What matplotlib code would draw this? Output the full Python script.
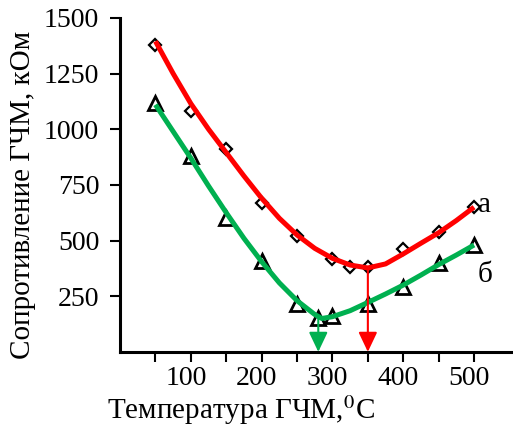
import numpy as np
import matplotlib
matplotlib.use('Agg')
import matplotlib.pyplot as plt
import matplotlib.transforms as mtransforms

plt.rcParams['font.family'] = ['Liberation Serif', 'DejaVu Serif']
plt.rcParams['mathtext.fontset'] = 'stix'

# measured points
temp_a = [50, 100, 150, 200, 250, 300, 325, 350, 400, 450, 500]
res_a = [1380, 1080, 910, 670, 520, 415, 380, 380, 460, 540, 650]
temp_b = [50, 100, 150, 200, 250, 280, 300, 350, 400, 450, 500]
res_b = [1120, 880, 600, 410, 215, 150, 160, 215, 290, 400, 480]

# trend curves
curve_t_a = [50, 75, 100, 125, 150, 175, 200, 225, 250, 275, 300, 325, 350,
             375, 400, 425, 450, 475, 500]
curve_r_a = [1395, 1250, 1115, 1000, 895, 790, 690, 600, 525, 465, 420, 390,
             377, 395, 440, 488, 535, 590, 650]
curve_t_b = [50, 75, 100, 125, 150, 175, 200, 225, 250, 275, 285, 300, 325,
             350, 375, 400, 425, 450, 475, 500]
curve_r_b = [1110, 990, 870, 745, 625, 510, 405, 310, 230, 168, 150, 158, 185,
             222, 260, 300, 345, 392, 435, 480]

min_a = (350, 377)
min_b = (280, 150)

red = '#ff0000'
green = '#00b050'

fig = plt.figure(figsize=(5.13, 4.26), dpi=100)
ax = fig.add_axes([0.234, 0.174, 0.766, 0.784])

ax.plot(temp_a, res_a, linestyle='none', marker='D', markersize=6.5,
        markerfacecolor='white', markeredgecolor='black', markeredgewidth=1.6, zorder=2)
ax.plot(temp_b, res_b, linestyle='none', marker='^', markersize=10,
        markerfacecolor='white', markeredgecolor='black', markeredgewidth=2, zorder=2)
ax.plot(curve_t_a, curve_r_a, color=red, lw=3.6, solid_capstyle='butt', zorder=3)
ax.plot(curve_t_b, curve_r_b, color=green, lw=3.6, solid_capstyle='butt', zorder=3)

for (t, r), c in [(min_a, red), (min_b, green)]:
    ax.annotate('', xy=(t, 0), xytext=(t, r),
                arrowprops=dict(arrowstyle='-|>,head_length=0.8,head_width=0.38',
                                color=c, lw=1.5, mutation_scale=15,
                                shrinkA=0, shrinkB=0), zorder=4)

ax.text(505, 660, 'а', fontsize=21, va='center', ha='left')
ax.text(505, 345, 'б', fontsize=21, va='center', ha='left')

ax.set_xlim(0, 555)
ax.set_ylim(0, 1500)
ax.set_xticks(np.arange(50, 501, 50))
ax.set_xticklabels(['', '100', '', '200', '', '300', '', '400', '', '500'])
ax.set_yticks([250, 500, 750, 1000, 1250, 1500])
ax.tick_params(axis='both', direction='out', length=7, width=1.5, labelsize=20, pad=3)
ax.tick_params(axis='y', pad=8)

# x labels sit a little left of their ticks in the original
shift = mtransforms.ScaledTranslation(-5 / 100, 0, fig.dpi_scale_trans)
for lab in ax.get_xticklabels():
    lab.set_transform(lab.get_transform() + shift)

for s in ['top', 'right']:
    ax.spines[s].set_visible(False)
for s in ['left', 'bottom']:
    ax.spines[s].set_linewidth(2.2)

ax.set_xlabel('Температура ГЧМ,$^{0}$С', fontsize=21)
ax.xaxis.set_label_coords(0.308, -0.125)
ax.set_ylabel('Сопротивление ГЧМ, кОм', fontsize=21)
ax.yaxis.set_label_coords(-0.215, 0.47)

fig.savefig('out.png', dpi=100)
